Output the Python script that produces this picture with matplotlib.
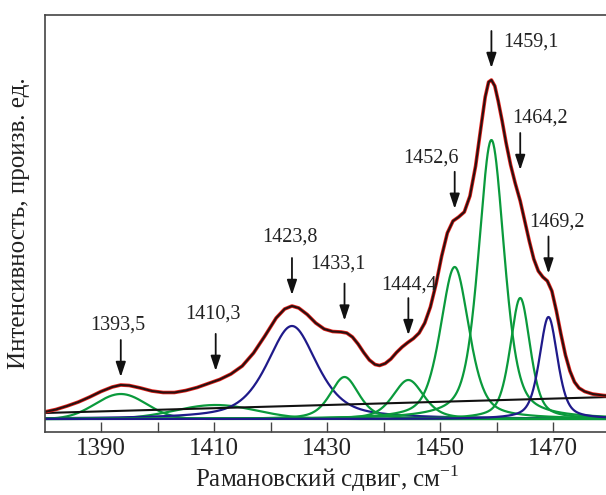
import numpy as np
import matplotlib
matplotlib.use("Agg")
import matplotlib.pyplot as plt

plt.rcParams['font.family'] = ['Liberation Serif', 'DejaVu Serif']
plt.rcParams['mathtext.fontset'] = 'custom'
plt.rcParams['mathtext.rm'] = 'Liberation Serif'

shift = [1380, 1382, 1384, 1386, 1388, 1390, 1392, 1393.5, 1395, 1397,
         1399, 1401, 1403, 1405, 1407, 1409, 1411, 1413, 1415, 1417,
         1419, 1421, 1422.5, 1423.8, 1425, 1426.5, 1428, 1429.5, 1431, 1432.5,
         1433.5, 1434.5, 1435.5, 1436.5, 1437.5, 1438.5, 1439.3, 1440.3, 1441.3, 1442.3,
         1443.3, 1444.3, 1445.3, 1446.3, 1447.3, 1448.3, 1449.3, 1450.3, 1451.3, 1452.3,
         1453.3, 1454.3, 1455.3, 1456.3, 1457.3, 1458.0, 1458.6, 1459.1, 1459.7, 1460.3,
         1461.0, 1461.7, 1462.5, 1463.3, 1464.2, 1465.0, 1465.8, 1466.6, 1467.4, 1468.2,
         1469.0, 1469.8, 1470.6, 1471.4, 1472.2, 1473.0, 1473.8, 1474.6, 1475.6, 1477,
         1479, 1482]
intensity = [7, 9.5, 13, 17, 22, 27.5, 32, 34, 33.5, 31,
             28, 26.5, 26.5, 28.5, 31.5, 35.5, 39.5, 45, 53, 66,
             83, 101, 110, 113, 111, 104.5, 96, 90, 87.5, 87,
             86, 82, 75, 66.5, 59, 54.5, 53.5, 55.5, 60, 66.5,
             72, 76.5, 80.5, 86, 96, 112, 135, 163, 186, 198,
             202, 207, 223, 253, 294, 322, 337, 339, 333, 318,
             298, 276, 254, 236, 218, 198, 178, 160, 148, 142,
             138, 128, 108, 85, 64, 48, 37, 31, 27.5, 25,
             23.5, 22.5]

# fitted bands: centre (cm-1), peak height, FWHM (cm-1), Lorentz fraction
centers = [1393.5, 1410.3, 1423.8, 1433.1, 1444.4, 1452.6, 1459.1, 1464.2, 1469.2]
heights = [25, 14, 93, 42, 39, 152, 279, 121, 102]
widths = [10.6, 17.0, 10.5, 6.0, 6.5, 6.0, 5.4, 4.2, 3.8]
lorentz = [0.0, 0.0, 0.6, 0.5, 0.5, 0.5, 0.5, 0.5, 0.5]
band_kind = ['g', 'g', 'b', 'g', 'g', 'g', 'g', 'g', 'b']
labels = ['1393,5', '1410,3', '1423,8', '1433,1', '1444,4',
          '1452,6', '1459,1', '1464,2', '1469,2']

# linear background at the ends of the range
bg_x = [1380, 1480]
bg_y = [6, 22]

# label / arrow placement relative to the spectrum (pixels)
label_dx = [-3, -3, -2, -7, 1, -24, 39, 20, 8]
label_dy = [60, 67, 69, 69, 57, 62, 38, 83, 61]
gap = [8, 10, 11, 12, 7, 11, 12, 31, 10]

colors = {'g': '#0a9a3c', 'b': '#1f1a8a'}


def pvoigt(x, c, h, w, eta):
    lor = 1 / (1 + ((x - c) / (w / 2)) ** 2)
    gau = np.exp(-4 * np.log(2) * ((x - c) / w) ** 2)
    return h * (eta * lor + (1 - eta) * gau)


x = np.linspace(1380, 1482, 1200)
bands = [pvoigt(x, c, h, w, e) for c, h, w, e in zip(centers, heights, widths, lorentz)]

fig = plt.figure(figsize=(6.06, 4.95), dpi=100)
ax = fig.add_axes([44.5 / 606, 63 / 495, 565 / 606, 417 / 495])

for b, k in zip(bands, band_kind):
    ax.plot(x, b, color=colors[k], lw=1.6)
ax.plot(bg_x, bg_y, color='#111111', lw=1.5)
ax.plot(shift, intensity, color='#e8231c', lw=2.6, solid_joinstyle='round')
ax.plot(shift, intensity, color='#2a1010', lw=1.5, solid_joinstyle='round')

for c, lab, dx, dy, g in zip(centers, labels, label_dx, label_dy, gap):
    top = np.interp(c, shift, intensity)
    ax.annotate('', xy=(c, top), xytext=(0, g + 37), textcoords='offset pixels',
                arrowprops=dict(arrowstyle='-|>,head_length=0.9,head_width=0.3',
                                color='#111111', lw=1.3, shrinkA=0,
                                shrinkB=g * 0.72))
    ax.annotate(lab, xy=(c, top), xytext=(dx, dy), textcoords='offset pixels',
                ha='center', va='center', fontsize=14.5, color='#222222')

ax.set_xlim(1380, 1480)
ax.set_ylim(-13, 404)
ax.set_xticks([1390, 1410, 1430, 1450, 1470])
ax.set_xticks([1400, 1420, 1440, 1460, 1480], minor=True)
ax.tick_params(axis='x', which='both', direction='in', length=7.5, width=1,
               color='#444444', labelsize=18, pad=4, labelcolor='#222222')
ax.set_yticks([])
for s in ax.spines.values():
    s.set_color('#444444')
    s.set_linewidth(1.2)

ax.set_xlabel('Рамановский сдвиг, см$^{-1}$', fontsize=18, color='#222222', labelpad=3)
ax.set_ylabel('Интенсивность, произв. ед.', fontsize=18, color='#222222')
ax.yaxis.set_label_coords(-0.026, 0.5)

fig.savefig('out.png', dpi=100)
